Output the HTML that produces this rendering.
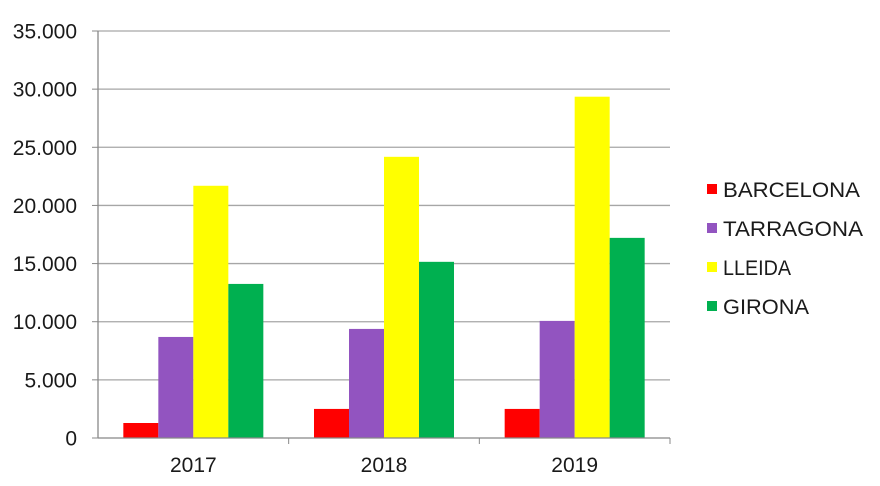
<!DOCTYPE html>
<html><head><meta charset="utf-8"><style>
body{margin:0;background:#fff;width:880px;height:481px;overflow:hidden}
text{font-family:"Liberation Sans",Arial,sans-serif;fill:#1a1a1a}
</style></head><body>
<svg width="880" height="481" id="chart">
<g id="grid"></g><g id="bars"></g><g id="axes"></g><g id="legend"></g>
</svg>
<script>
const categories=["2017","2018","2019"];
const seriesNames=["BARCELONA","TARRAGONA","LLEIDA","GIRONA"];
const barcelona=[1290,2500,2500];
const tarragona=[8690,9380,10070];
const lleida=[21690,24180,29350];
const girona=[13250,15150,17210];
const tickValues=[0,5000,10000,15000,20000,25000,30000,35000];
const tickLabels=["0","5.000","10.000","15.000","20.000","25.000","30.000","35.000"];
const colors=["#ff0000","#9254c0","#ffff00","#00b050"];
const series=[barcelona,tarragona,lleida,girona];
const NS="http://www.w3.org/2000/svg";
const x0=98,x1=670,y0=438,yTop=31,maxV=35000;
const y=v=>y0-(v/maxV)*(y0-yTop);
const gw=(x1-x0)/categories.length,bw=35,pad=(gw-bw*series.length)/2;
function mk(t,a,p){const e=document.createElementNS(NS,t);for(const k in a)e.setAttribute(k,a[k]);p.appendChild(e);return e;}
const grid=document.getElementById('grid'),bars=document.getElementById('bars'),axes=document.getElementById('axes'),legend=document.getElementById('legend');
tickValues.forEach((v,i)=>{
 if(v>0){const l=mk('line',{x1:x0,x2:x1,y1:y(v),y2:y(v),stroke:'#a6a6a6','stroke-width':1.3},grid);
 
 }
 const tk=mk('line',{x1:x0-6,x2:x0,y1:y(v),y2:y(v),stroke:'#888'},axes);
 
 
 const t=mk('text',{x:x0-21,y:y(v)+7.5,'text-anchor':'end','font-size':21},axes);t.textContent=tickLabels[i];
 
 
});
categories.forEach((c,ci)=>{
 series.forEach((s,si)=>{
  const r=mk('rect',{x:x0+ci*gw+pad+si*bw,y:y(s[ci]),width:bw,height:y0-y(s[ci]),fill:colors[si]},bars);
  
  
 });
 const t=mk('text',{x:x0+ci*gw+gw/2,y:y0+34,'text-anchor':'middle','font-size':21},axes);t.textContent=c;
 
 
 const tk=mk('line',{x1:x0+(ci+1)*gw,x2:x0+(ci+1)*gw,y1:y0,y2:y0+6,stroke:'#888'},axes);
 
 
});
const ya=mk('line',{x1:x0,x2:x0,y1:yTop,y2:y0,stroke:'#888','stroke-width':1.3},axes);


const xa=mk('line',{x1:x0,x2:x1,y1:y0,y2:y0,stroke:'#888','stroke-width':1.3},axes);


seriesNames.forEach((n,i)=>{
 const g=mk('g',{},legend);
 
 
 mk('rect',{x:707,y:184+i*39,width:10,height:10,fill:colors[i]},g);
 const t=mk('text',{x:723,y:197+i*39,'font-size':21,textLength:[137,140,68,86][i],lengthAdjust:'spacingAndGlyphs'},g);t.textContent=n;
});
</script>
</body></html>
